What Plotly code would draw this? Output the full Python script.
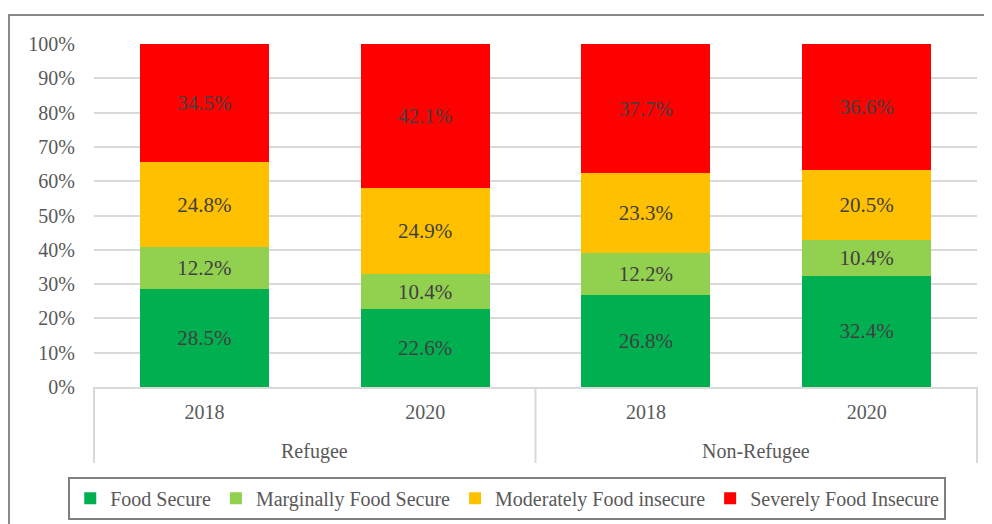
import plotly.graph_objects as go

groups = ["Refugee", "Refugee", "Non-Refugee", "Non-Refugee"]
years = ["2018", "2020", "2018", "2020"]
group_names = ["Refugee", "Non-Refugee"]
series_names = ["Food Secure", "Marginally Food Secure", "Moderately Food insecure", "Severely Food Insecure"]
food_secure = [28.5, 22.6, 26.8, 32.4]
marginally_secure = [12.2, 10.4, 12.2, 10.4]
moderately_insecure = [24.8, 24.9, 23.3, 20.5]
severely_insecure = [34.5, 42.1, 37.7, 36.6]
colors = ["#00B050", "#92D050", "#FFC000", "#FF0000"]

FONT = "Liberation Serif, Times New Roman, serif"
cats = [f"{g} {y}" for g, y in zip(groups, years)]

fig = go.Figure()
for name, vals, col in zip(series_names,
                           [food_secure, marginally_secure, moderately_insecure, severely_insecure],
                           colors):
    fig.add_trace(go.Bar(
        x=cats, y=vals, name=name,
        marker=dict(color=col, line=dict(width=0)),
        text=[f"{v:.1f}%" for v in vals], texttemplate="%{text}",
        textposition="inside", insidetextanchor="middle",
        textfont=dict(family=FONT, size=21, color="#404040"),
        hoverinfo="skip",
    ))

fig.update_layout(
    barmode="stack", barnorm="percent", bargap=0.415,
    width=992, height=524,
    margin=dict(l=86, r=23, t=36, b=145),
    paper_bgcolor="white", plot_bgcolor="white",
    font=dict(family=FONT, size=20, color="#595959"),
    uniformtext=dict(minsize=21, mode="show"),
    legend=dict(orientation="h", x=0.468, xanchor="center", y=-0.262, yanchor="top",
                bordercolor="#7F7F7F", borderwidth=2,
                font=dict(family=FONT, size=20, color="#595959"),
                traceorder="normal"),
    showlegend=True,
)
fig.update_yaxes(range=[0, 100], dtick=10, ticksuffix="%", showgrid=True, gridcolor="#D9D9D9",
                 gridwidth=1.5, zeroline=False, ticks="", ticklabelstandoff=18,
                 tickfont=dict(size=20, color="#595959"))
fig.update_xaxes(type="category", categoryorder="array", categoryarray=cats,
                 tickvals=cats, ticktext=years,
                 showline=True, linecolor="#D9D9D9", linewidth=1.5, ticks="",
                 ticklabelstandoff=6,
                 tickfont=dict(size=20, color="#595959"))

# group dividers and labels beneath the category axis
for xp in [0, 0.5, 1]:
    fig.add_shape(type="line", xref="paper", yref="paper", x0=xp, x1=xp, y0=0, y1=-0.2216,
                  line=dict(color="#D9D9D9", width=2))
for i, g in enumerate(group_names):
    fig.add_annotation(xref="paper", yref="paper", x=0.25 + 0.5 * i, y=-0.1866,
                       text=g, showarrow=False, xanchor="center", yanchor="middle",
                       font=dict(family=FONT, size=20, color="#595959"))

fig.add_shape(type="rect", xref="paper", yref="paper",
              x0=-0.0963, x1=1.05, y0=-0.45, y1=1.0845,
              line=dict(color="#888888", width=2), fillcolor="rgba(0,0,0,0)", layer="below")

fig.write_html("out.html")
